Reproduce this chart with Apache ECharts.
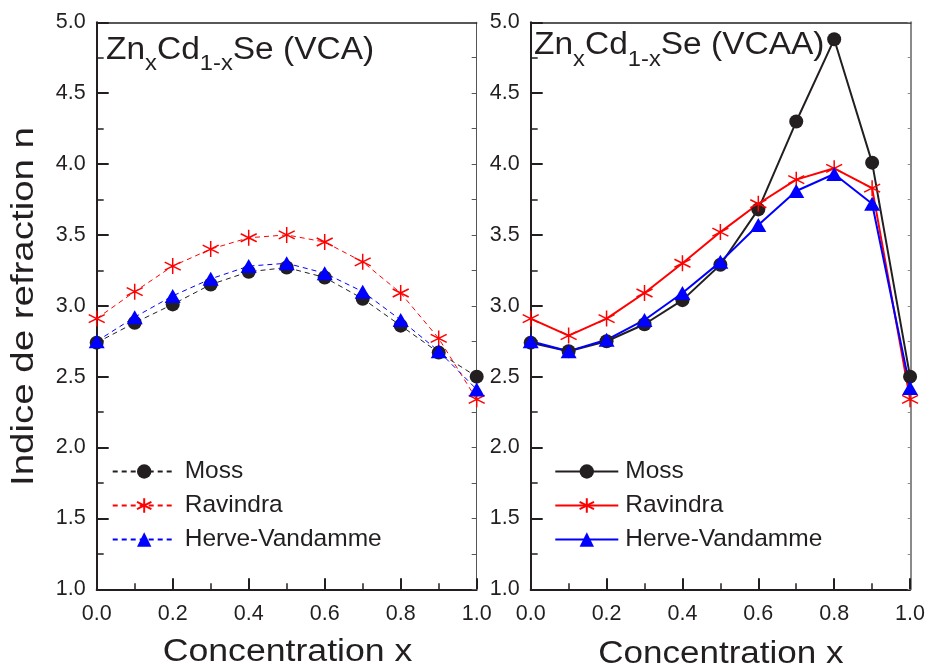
<!DOCTYPE html>
<html>
<head>
<meta charset="utf-8">
<script src="https://cdn.jsdelivr.net/npm/echarts@6/dist/echarts.min.js"></script>
<style>
  html, body { margin: 0; padding: 0; background: #fff; }
  #chart { width: 928px; height: 671px; }
</style>
</head>
<body>
<div id="chart"></div>
<script>
// concentration x (shared by both panels)
const conc = [0, 0.1, 0.2, 0.3, 0.4, 0.5, 0.6, 0.7, 0.8, 0.9, 1.0]

// left panel: VCA
const vcaMoss = [2.74, 2.88, 3.01, 3.15, 3.24, 3.27, 3.20, 3.05, 2.86, 2.67, 2.50]
const vcaRavindra = [2.91, 3.10, 3.28, 3.40, 3.48, 3.50, 3.45, 3.31, 3.09, 2.77, 2.34]
const vcaHerve = [2.75, 2.92, 3.07, 3.19, 3.28, 3.30, 3.23, 3.10, 2.90, 2.68, 2.41]

// right panel: VCAA
const vcaaMoss = [2.74, 2.68, 2.75, 2.87, 3.04, 3.29, 3.68, 4.30, 4.88, 4.01, 2.50]
const vcaaRavindra = [2.91, 2.79, 2.91, 3.09, 3.30, 3.52, 3.72, 3.89, 3.97, 3.83, 2.34]
const vcaaHerve = [2.75, 2.68, 2.76, 2.90, 3.09, 3.31, 3.57, 3.81, 3.93, 3.72, 2.42]

const methodNames = ['Moss', 'Ravindra', 'Herve-Vandamme']

const FONT = 'Liberation Sans, Arial, sans-serif'
const BLACK = '#231f20'
const RED = '#ff0000'
const BLUE = '#0000ff'
const STAR = 'path://M0,-10L0,10M-8.66,-5L8.66,5M-8.66,5L8.66,-5'

const pairs = (ys) => conc.map((x, i) => [x, ys[i]])

const tickLabel = (margin) => ({
  margin,
  fontSize: 21.5,
  color: BLACK,
  formatter: (v) => v.toFixed(1),
})

const bottomAxis = (gridIndex) => ({
  gridIndex,
  type: 'value',
  min: 0,
  max: 1,
  interval: 0.2,
  axisLine: { show: true, onZero: false, lineStyle: { color: BLACK, width: 2 } },
  axisTick: { show: true, inside: true, length: 11, lineStyle: { color: BLACK, width: 2 } },
  minorTick: { show: true, splitNumber: 2, length: 6, lineStyle: { color: BLACK, width: 1.5 } },
  axisLabel: tickLabel(14),
  splitLine: { show: false },
})

const leftAxis = (gridIndex) => ({
  gridIndex,
  type: 'value',
  min: 1,
  max: 5,
  interval: 0.5,
  axisLine: { show: true, onZero: false, lineStyle: { color: BLACK, width: 2 } },
  axisTick: { show: true, inside: true, length: 12, lineStyle: { color: BLACK, width: 2 } },
  minorTick: { show: true, splitNumber: 2, length: 7, lineStyle: { color: BLACK, width: 1.5 } },
  axisLabel: tickLabel(11),
  splitLine: { show: false },
})

// frame grids: top line and the right axis with short inner ticks
const topAxis = (gridIndex) => ({
  gridIndex,
  type: 'value',
  position: 'top',
  min: 0,
  max: 1,
  axisLine: { show: true, onZero: false, lineStyle: { color: BLACK, width: 1.5 } },
  axisTick: { show: false },
  axisLabel: { show: false },
  splitLine: { show: false },
})

const rightAxis = (gridIndex, color, width, tickLen) => ({
  gridIndex,
  type: 'value',
  position: 'right',
  min: 1,
  max: 5,
  interval: 0.25,
  axisLine: { show: true, onZero: false, lineStyle: { color, width } },
  axisTick: { show: true, inside: true, length: tickLen, lineStyle: { color, width: 1 } },
  axisLabel: { show: false },
  splitLine: { show: false },
})

const makeSeries = (panel, gi, values, dashed) => {
  const lineW = dashed ? 1 : 2
  const lineType = dashed ? [5, 4] : 'solid'
  const defs = [
    { color: BLACK, symbol: 'circle', size: 14, extra: {} },
    { color: RED, symbol: STAR, size: 16, extra: { borderColor: RED, borderWidth: 1.5 } },
    { color: BLUE, symbol: 'triangle', size: [16, 14], extra: {} },
  ]
  return values.map((ys, k) => ({
    name: panel + '|' + methodNames[k],
    type: 'line',
    xAxisIndex: gi,
    yAxisIndex: gi,
    data: pairs(ys),
    symbol: defs[k].symbol,
    symbolSize: defs[k].size,
    showAllSymbol: true,
    lineStyle: { color: defs[k].color, width: lineW, type: lineType },
    itemStyle: Object.assign({ color: defs[k].color }, defs[k].extra),
    emphasis: { disabled: true },
  }))
}

const legendFor = (panel, left, padLeft) => ({
  orient: 'vertical',
  left,
  top: 459,
  padding: 0,
  itemWidth: 63,
  itemHeight: 18,
  itemGap: 9,
  selectedMode: false,
  data: methodNames.map((n) => panel + '|' + n),
  formatter: (name) => name.split('|')[1],
  textStyle: {
    fontSize: 24.5,
    fontFamily: FONT,
    color: BLACK,
    padding: [0, 0, 0, padLeft],
  },
})

const panelTitle = (x, y, label) => ({
  type: 'text',
  x,
  y,
  scaleX: 1.08,
  style: {
    text: '{m|Zn}{s|x}{m|Cd}{s|1-x}{m|Se (' + label + ')}',
    textVerticalAlign: 'top',
    fill: BLACK,
    rich: {
      m: { fontSize: 31, fontFamily: FONT, fill: BLACK },
      s: { fontSize: 22, fontFamily: FONT, fill: BLACK, padding: [28, 0, 0, 0] },
    },
  },
})

const axisTitle = (x, y, text, scale, rotation) => ({
  type: 'text',
  x,
  y,
  rotation,
  scaleX: scale,
  style: {
    text,
    font: '31px ' + FONT,
    fill: BLACK,
    textAlign: 'center',
    textVerticalAlign: 'middle',
  },
})

const leftRect = { left: 96.7, top: 22.3, width: 380, height: 567 }
const rightRect = { left: 530.7, top: 22.3, width: 380, height: 567 }

const chart = echarts.init(document.getElementById('chart'))

chart.setOption({
  animation: false,
  grid: [leftRect, rightRect, leftRect, rightRect],
  xAxis: [bottomAxis(0), bottomAxis(1), topAxis(2), topAxis(3)],
  yAxis: [
    leftAxis(0),
    leftAxis(1),
    rightAxis(2, '#555555', 1, 5),
    rightAxis(3, '#8a8a8a', 2, 3),
  ],
  legend: [legendFor('VCA', 111.7, 4), legendFor('VCAA', 554.3, 2)],
  series: [
    ...makeSeries('VCA', 0, [vcaMoss, vcaRavindra, vcaHerve], true),
    ...makeSeries('VCAA', 1, [vcaaMoss, vcaaRavindra, vcaaHerve], false),
  ],
  graphic: [
    panelTitle(106, 25.2, 'VCA'),
    panelTitle(534, 20.9, 'VCAA'),
    axisTitle(24, 306.5, 'Indice de refraction n', 1.24, Math.PI / 2),
    axisTitle(287.5, 652.7, 'Concentration x', 1.15, 0),
    axisTitle(720.9, 654.4, 'Concentration x', 1.13, 0),
  ],
})
</script>
</body>
</html>
